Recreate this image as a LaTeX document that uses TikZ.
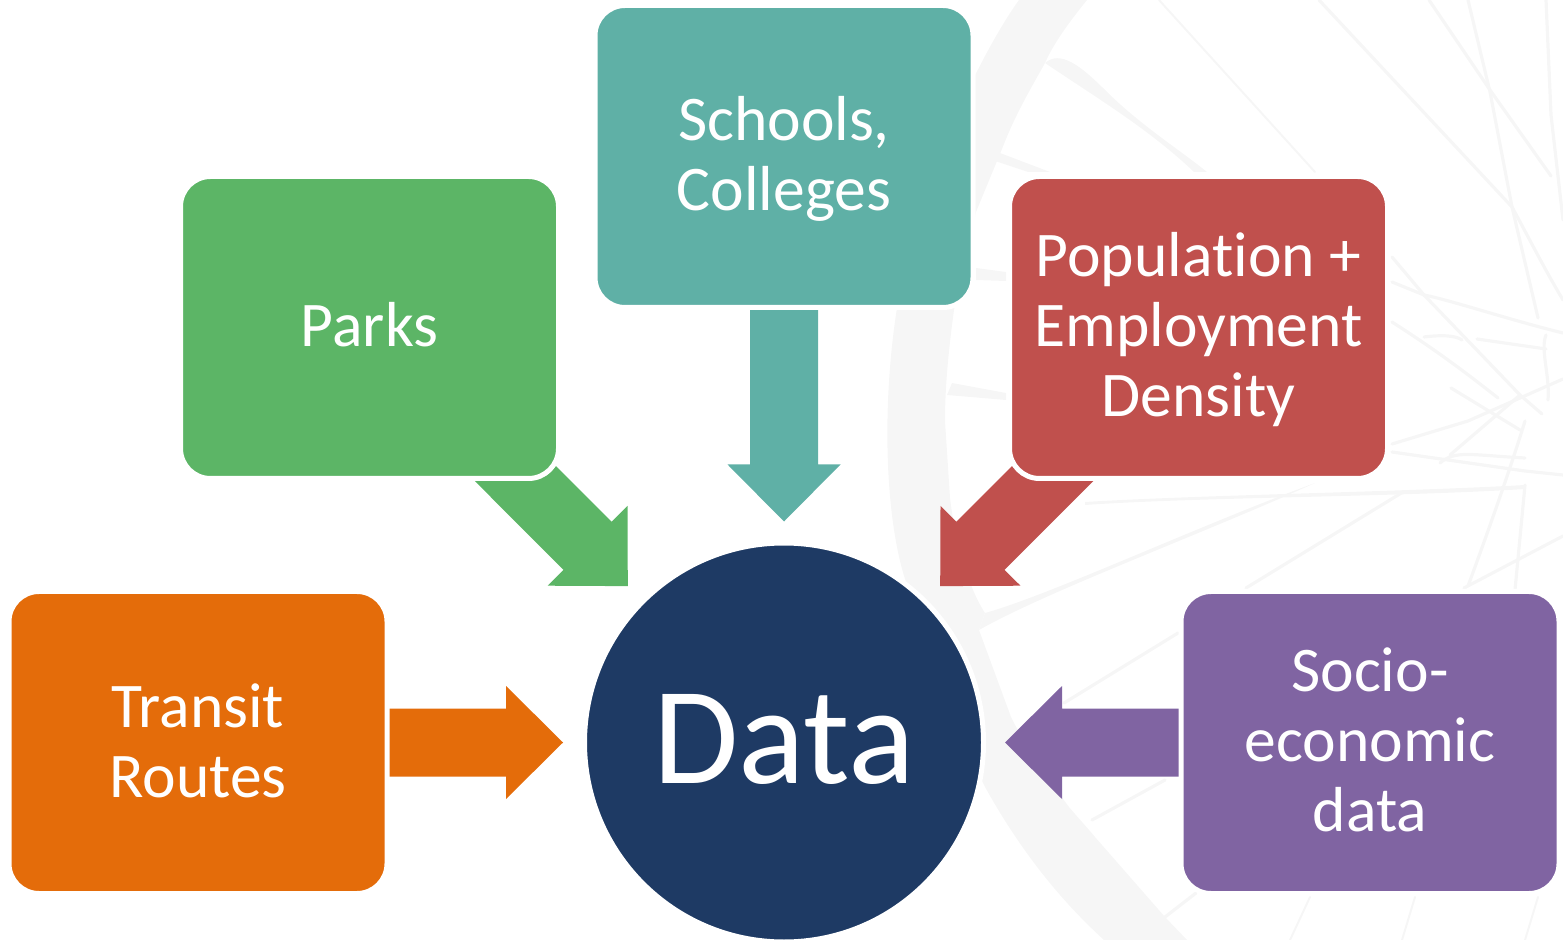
\documentclass[tikz,border=0pt]{standalone}
\usepackage{fontspec}
\setmainfont{Carlito}[Ligatures=NoCommon]
\usetikzlibrary{calc}
\pgfdeclarelayer{motif}
\pgfdeclarelayer{links}
\pgfsetlayers{motif,links,main}
\definecolor{cOrange}{HTML}{E46C0A}
\definecolor{cGreen}{HTML}{5CB566}
\definecolor{cTeal}{HTML}{5FB0A6}
\definecolor{cRed}{HTML}{C0504D}
\definecolor{cPurple}{HTML}{8064A2}
\definecolor{cNavy}{HTML}{1E3A64}
\definecolor{cMotif}{HTML}{F6F6F6}
\tikzset{
  infobox/.style={draw=white,line width=2.5pt,rounded corners=15pt,minimum width=189pt,minimum height=151pt,
    inner sep=0pt,outer sep=0pt},
  boxtext/.style={inner sep=0pt,outer sep=0pt,align=center,text=white,font=\fontsize{31.8}{35}\selectfont,yshift=#1},
  hub/.style={circle,draw=white,line width=2.5pt,fill=cNavy,minimum size=199.5pt,inner sep=0pt,outer sep=0pt},
  hubtext/.style={inner sep=0pt,outer sep=0pt,text=white,font=\fontsize{69.4}{70}\selectfont,yshift=1.5pt},
  twig/.style={draw=cMotif,line width=1.6pt,line cap=round,line join=round},
  twigthin/.style={draw=cMotif,line width=1pt,line cap=round,line join=round},
  limb/.style={fill=cMotif,draw=none}
}
% block arrow from the centre of node #1 towards node #2, stopping short of its rim
\newcommand{\feedarrow}[3]{%
  \fill[#3] let \p1=(#1.center), \p2=(#2.center),
    \n1={atan2(\y2-\y1,\x2-\x1)}, \n2={veclen(\x2-\x1,\y2-\y1)},
    \n3={\n2-110.5}, \n4={\n2-139}
  in {[shift={(#1.center)},rotate=\n1]
    (0pt,-17pt) -- (\n4,-17pt) -- (\n4,-28.25pt) -- (\n3,0pt) -- (\n4,28.25pt) -- (\n4,17pt) -- (0pt,17pt) -- cycle};
}
\begin{document}
\begin{tikzpicture}[x=0.5pt,y=-0.5pt]
\useasboundingbox (0,0) rectangle (1563,940);

\node[infobox,fill=cOrange,label={[boxtext=1pt]center:{Transit\\Routes}}] (transit) at (198,742.5) {};
\node[infobox,fill=cGreen,label={[boxtext=1.5pt]center:{Parks}}] (parks) at (369.5,327.5) {};
\node[infobox,fill=cTeal,label={[boxtext=-1pt]center:{Schools,\\Colleges}}] (schools) at (784,156.5) {};
\node[infobox,fill=cRed,label={[boxtext=-1pt]center:{Population +\\Employment\\Density}}] (pop) at (1198.5,327.5) {};
\node[infobox,fill=cPurple,label={[boxtext=1.5pt]center:{Socio-\\economic\\data}}] (socio) at (1370,742.5) {};
\node[hub,label={[hubtext]center:{Data}}] (data) at (784,742.5) {};

\begin{pgfonlayer}{links}
\feedarrow{transit}{data}{cOrange}
\feedarrow{parks}{data}{cGreen}
\feedarrow{schools}{data}{cTeal}
\feedarrow{pop}{data}{cRed}
\feedarrow{socio}{data}{cPurple}
\end{pgfonlayer}

\begin{pgfonlayer}{motif}
% main curved limb
\fill[limb] (1019,0) .. controls (990,40) and (930,150) .. (900,290)
  .. controls (880,400) and (885,520) .. (906,582)
  .. controls (925,660) and (960,735) .. (985,787)
  .. controls (1020,850) and (1060,900) .. (1104,940)
  -- (1187,940) -- (1165,917) -- (1095,837) .. controls (1085,825) and (1080,820) .. (1069,807)
  .. controls (1045,775) and (1025,745) .. (1011,717)
  -- (979,630) -- (985,613) .. controls (968,587) and (955,540) .. (950,498)
  -- (945,421)
  .. controls (945,380) and (950,340) .. (954,310)
  -- (976,212) -- (1002,149) .. controls (1015,115) and (1030,90) .. (1045,63)
  .. controls (1055,40) and (1075,15) .. (1087,0) -- cycle;
% branches off the limb
\fill[limb] (1045,63) .. controls (1060,50) and (1080,65) .. (1105,90)
  .. controls (1140,125) and (1180,150) .. (1207,172) -- (1194,172)
  .. controls (1150,130) and (1100,100) .. (1045,63) -- cycle;
\fill[limb] (1000,153) -- (1050,172) -- (1028,172) -- (995,161) -- cycle;
\fill[limb] (976,268) -- (1006,272) -- (1006,281) -- (976,280) -- cycle;
\fill[limb] (952,383) -- (1006,393) -- (1006,400) -- (947,395) -- cycle;
\fill[limb] (985,613) .. controls (1050,595) and (1200,525) .. (1315,483)
  .. controls (1200,535) and (1050,590) .. (979,630) -- cycle;
\fill[limb] (1085,502) .. controls (1200,495) and (1400,492) .. (1525,485)
  -- (1525,489) .. controls (1400,497) and (1200,497) .. (1085,505) -- cycle;
% straight and wandering twigs
\draw[twigthin] (1159,0) -- (1315,172);
\draw[twig] (1319,0) -- (1512,207) .. controls (1530,240) and (1545,270) .. (1563,300);
\draw[twig] (1429,0) -- (1490,90) -- (1551,176);
\draw[twig] (1468,0) -- (1490,92) -- (1512,207) -- (1538,318);
\draw[twig] (1546,0) -- (1551,115) -- (1563,220);
\draw[twig] (1392,257) -- (1424,295) -- (1520,395) -- (1542,414);
\draw[twig] (1392,282) -- (1424,295) .. controls (1450,300) and (1510,320) .. (1563,333);
\draw[twig] (1392,322) .. controls (1420,340) and (1450,360) .. (1498,398);
\draw[twig] (1424,337) .. controls (1440,335) and (1455,335) .. (1462,340);
\draw[twig] (1477,339) -- (1546,349);
\draw[twig] (1392,444) -- (1468,421) -- (1563,379);
\draw[twig] (1392,452) -- (1525,471) -- (1563,475);
\draw[twig] (1440,463) .. controls (1455,450) and (1470,455) .. (1525,458);
\draw[twig] (1451,388) -- (1520,430);
\draw[twig] (1450,455) -- (1520,395);
\draw[twig] (1546,335) .. controls (1540,350) and (1550,375) .. (1548,400);
\draw[twig] (1403,492) -- (1246,588);
\draw[twig] (1525,421) .. controls (1510,470) and (1485,540) .. (1468,586);
\draw[twig] (1464,588) -- (1563,536);
\draw[twig] (1525,485) -- (1515,590);
\draw[twig] (1178,633) -- (1064,703);
\draw[twig] (1165,780) -- (1092,820);
\draw[twigthin] (1310,897) -- (1290,940);
\draw[twigthin] (1415,897) -- (1402,940);
\draw[twigthin] (1538,897) -- (1525,940);
\draw[twig] (1196,893) -- (1165,917);
\end{pgfonlayer}
\end{tikzpicture}
\end{document}
